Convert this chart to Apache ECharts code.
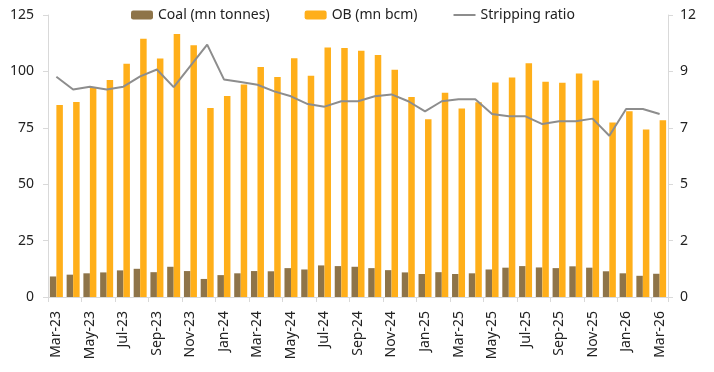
<!DOCTYPE html>
<html><head><meta charset="utf-8">
<script src="https://cdn.jsdelivr.net/npm/echarts@6/dist/echarts.min.js"></script>
<style>html,body{margin:0;padding:0;background:#fff}#c{width:714px;height:372px}</style>
</head><body><div id="c"></div>
<script>
var categories = ['Mar-23','Apr-23','May-23','Jun-23','Jul-23','Aug-23','Sep-23','Oct-23','Nov-23','Dec-23','Jan-24','Feb-24','Mar-24','Apr-24','May-24','Jun-24','Jul-24','Aug-24','Sep-24','Oct-24','Nov-24','Dec-24','Jan-25','Feb-25','Mar-25','Apr-25','May-25','Jun-25','Jul-25','Aug-25','Sep-25','Oct-25','Nov-25','Dec-25','Jan-26','Feb-26','Mar-26'];
var coal = [9.1,9.9,10.5,10.9,11.8,12.5,11.0,13.4,11.5,8.0,9.7,10.5,11.5,11.4,12.8,12.2,14.0,13.7,13.4,12.8,11.9,10.9,10.2,11.0,10.2,10.5,12.2,13.0,13.7,13.1,12.8,13.6,13.0,11.4,10.5,9.4,10.3];
var ob = [85.1,86.4,92.6,96.2,103.4,114.5,105.7,116.6,111.6,83.8,89.1,94.2,102.0,97.5,105.8,98.1,110.6,110.4,109.2,107.3,100.7,88.6,78.8,90.5,83.6,86.3,95.1,97.3,103.6,95.4,95.0,99.1,96.0,77.3,82.3,74.3,78.3];
var ratio = [9.37,8.83,8.95,8.83,8.95,9.39,9.68,8.93,9.84,10.74,9.26,9.15,9.03,8.75,8.54,8.21,8.10,8.33,8.33,8.54,8.62,8.33,7.90,8.33,8.41,8.41,7.79,7.69,7.69,7.36,7.48,7.48,7.59,6.86,8.00,8.00,7.79];
var rightTickLabels = ['0','2','5','7','9','12'];

var font = 'Noto Sans';
var chart = echarts.init(document.getElementById('c'));
chart.setOption({
  animation: false,
  textStyle: {fontFamily: font},
  legend: {
    top: 8, left: 131, padding: 0, itemWidth: 22, itemHeight: 9, itemGap: 35,
    textStyle: {fontFamily: font, fontSize: 14, color: '#222'},
    data: [{name:'Coal (mn tonnes)'},{name:'OB (mn bcm)'},{name:'Stripping ratio', itemStyle:{opacity:0}}]
  },
  grid: {left: 48, right: 46, top: 15, bottom: 75, containLabel: false},
  xAxis: {
    type: 'category', data: categories,
    axisLine: {lineStyle: {color: '#d9d9d9'}},
    axisTick: {show: true, interval: 1, length: 5, lineStyle: {color: '#d9d9d9'}},
    axisLabel: {interval: 1, rotate: 90, fontSize: 14, color: '#222', fontFamily: font, margin: 14}
  },
  yAxis: [{
    type: 'value', min: 0, max: 125, interval: 25,
    splitLine: {show: false},
    axisLine: {show: true, lineStyle: {color: '#d9d9d9'}},
    axisTick: {show: true, length: 5, lineStyle: {color: '#d9d9d9'}},
    axisLabel: {fontSize: 14, color: '#222', fontFamily: font, margin: 14}
  },{
    type: 'value', min: 0, max: 12, interval: 2.4,
    splitLine: {show: false},
    axisLine: {show: true, lineStyle: {color: '#d9d9d9'}},
    axisTick: {show: true, length: 5, lineStyle: {color: '#d9d9d9'}},
    axisLabel: {fontSize: 14, color: '#222', fontFamily: font, margin: 12,
      formatter: function(v, i){ return rightTickLabels[i]; }}
  }],
  series: [
    {name:'Coal (mn tonnes)', type:'bar', data: coal, barWidth: 6.5, barGap: '0%', itemStyle:{color:'#8E7449'}},
    {name:'OB (mn bcm)', type:'bar', data: ob, barWidth: 6.5, barGap: '0%', itemStyle:{color:'#FFAF1A'}},
    {name:'Stripping ratio', type:'line', yAxisIndex: 1, data: ratio, symbol:'none', lineStyle:{color:'#8D8D8D', width:2}, itemStyle:{color:'#8D8D8D'}}
  ]
});
</script></body></html>
